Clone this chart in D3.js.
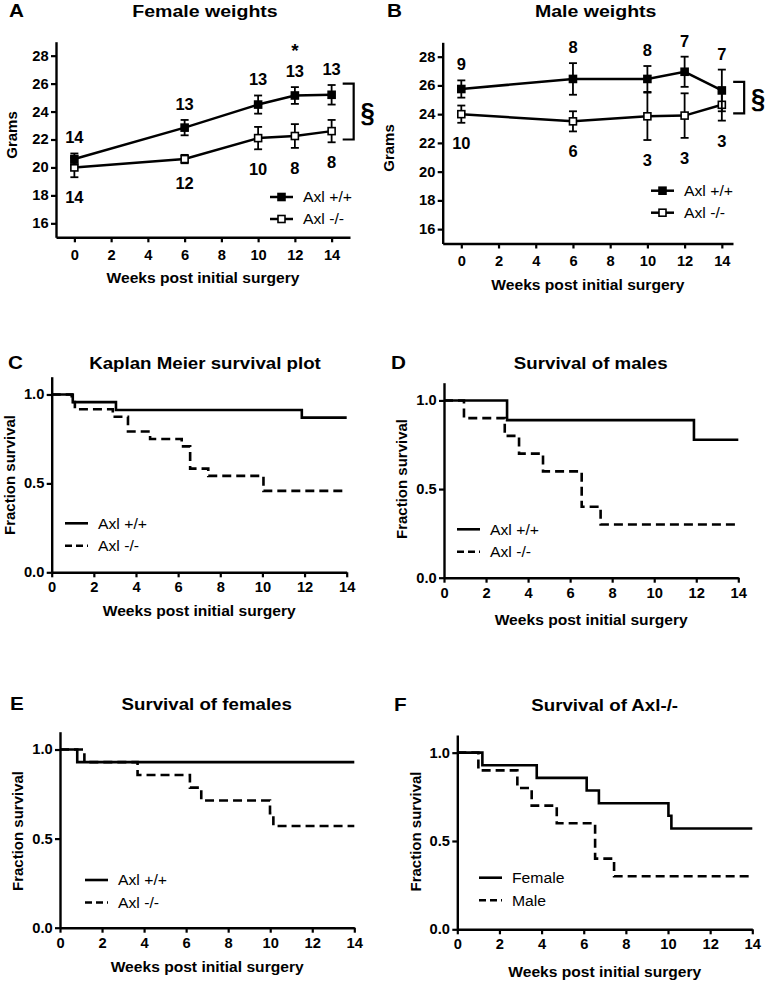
<!DOCTYPE html>
<html>
<head>
<meta charset="utf-8">
<script src="https://cdn.jsdelivr.net/npm/d3@7"></script>
<style>
body { margin: 0; background: #fff; }
svg { display: block; font-family: "Liberation Sans", Arial, sans-serif; }
</style>
</head>
<body>
<script>
// weights (panels A, B)
var weeks = [0, 6, 10, 12, 14];
var femWt = [20.6, 22.85, 24.5, 25.15, 25.2];
var femWtErr = [0.4, 0.55, 0.65, 0.6, 0.7];
var femKo = [20.0, 20.6, 22.1, 22.25, 22.6];
var femKoErr = [0.7, 0.3, 0.8, 0.85, 0.8];
var femWtN = ["14", "13", "13", "13", "13"];
var femKoN = ["14", "12", "10", "8", "8"];
var maleWt = [25.75, 26.45, 26.45, 26.95, 25.65];
var maleWtErr = [0.6, 1.1, 0.9, 1.05, 1.45];
var maleKo = [24.0, 23.5, 23.85, 23.9, 24.65];
var maleKoErr = [0.6, 0.7, 1.65, 1.55, 1.1];
var maleWtN = ["9", "8", "8", "7", "7"];
var maleKoN = ["10", "6", "3", "3", "3"];
var femBracket = [22, 26];
var maleBracket = [24.05, 26.25];
var gramTicks = [16, 18, 20, 22, 24, 26, 28];
var weekTicks = [0, 2, 4, 6, 8, 10, 12, 14];
var survTicks = [0, 0.5, 1.0];

// survival steps (panels C-F)
var cWtT = [0, 1.0, 3.05, 11.87, 14];
var cWtS = [1, 0.957, 0.913, 0.870, 0.870];
var cKoT = [0, 0.95, 1.1, 2.9, 3.62, 4.67, 6.17, 6.57, 7.43, 10.05, 14];
var cKoS = [1, 0.958, 0.917, 0.875, 0.792, 0.75, 0.708, 0.583, 0.542, 0.458, 0.458];
var dWtT = [0, 3.0, 11.89, 14];
var dWtS = [1, 0.889, 0.778, 0.778];
var dKoT = [0, 0.95, 2.89, 3.57, 4.71, 6.55, 7.45, 13.85];
var dKoS = [1, 0.9, 0.8, 0.7, 0.6, 0.4, 0.3, 0.3];
var eWtT = [0, 0.82, 14];
var eWtS = [1, 0.929, 0.929];
var eKoT = [0, 1.16, 3.69, 6.18, 6.72, 9.99, 10.15, 14];
var eKoS = [1, 0.929, 0.857, 0.786, 0.714, 0.643, 0.571, 0.571];
var fFemT = [0, 1.19, 3.77, 6.14, 6.72, 10.02, 10.16, 14];
var fFemS = [1, 0.929, 0.857, 0.786, 0.714, 0.643, 0.571, 0.571];
var fMaleT = [0, 1.0, 2.85, 3.53, 4.72, 6.54, 7.44, 14];
var fMaleS = [1, 0.9, 0.8, 0.7, 0.6, 0.4, 0.3, 0.3];

var W = 768, H = 983;
var svg = d3.select("body").append("svg").attr("width", W).attr("height", H);

function txt(x, y, s, o) {
	o = o || {};
	var t = "translate(" + x + "," + y + ")";
	if (o.rot) t += " rotate(" + o.rot + ")";
	t += " scale(" + (o.sx || 1) + ",1)";
	return svg.append("text")
		.attr("transform", t)
		.attr("text-anchor", o.anchor || "middle")
		.attr("font-size", o.size || 13)
		.attr("font-weight", o.normal ? "normal" : "bold")
		.attr("fill", "#000")
		.text(s);
}

function axes(x, y, xt, yt, yfmt, xpad) {
	var xa = svg.append("g")
		.attr("transform", "translate(0," + y.range()[0] + ")")
		.call(d3.axisBottom(x).tickValues(xt).tickSize(5).tickSizeOuter(0).tickPadding(xpad));
	var ya = svg.append("g")
		.attr("transform", "translate(" + x.range()[0] + ",0)")
		.call(d3.axisLeft(y).tickValues(yt).tickFormat(yfmt).tickSize(5).tickSizeOuter(0).tickPadding(2));
	[xa, ya].forEach(function(a) {
		a.select(".domain").attr("stroke-width", 2.4);
		a.selectAll(".tick line").attr("stroke-width", 2.2);
		a.selectAll(".tick text")
			.attr("font-size", 14)
			.attr("font-weight", "bold")
			.attr("font-family", "Liberation Sans, Arial, sans-serif")
			.attr("fill", "#000")
			.attr("transform", "scale(1.05,1)");
	});
}

function marker(x, y, filled) {
	svg.append("rect")
		.attr("x", x - 3.5).attr("y", y - 3.5)
		.attr("width", 7).attr("height", 7)
		.attr("fill", filled ? "#000" : "#fff")
		.attr("stroke", "#000").attr("stroke-width", 1.6);
}

function weightSeries(x, y, mean, err, filled) {
	var line = d3.line().x(function(d, i) { return x(weeks[i]); }).y(function(d) { return y(d); });
	svg.append("path").datum(mean).attr("d", line)
		.attr("fill", "none").attr("stroke", "#000").attr("stroke-width", 2.5);
	mean.forEach(function(m, i) {
		var cx = x(weeks[i]);
		var g = svg.append("g").attr("stroke", "#000").attr("stroke-width", 1.8);
		g.append("line").attr("x1", cx).attr("x2", cx).attr("y1", y(m - err[i])).attr("y2", y(m + err[i]));
		g.append("line").attr("x1", cx - 4).attr("x2", cx + 4).attr("y1", y(m + err[i])).attr("y2", y(m + err[i]));
		g.append("line").attr("x1", cx - 4).attr("x2", cx + 4).attr("y1", y(m - err[i])).attr("y2", y(m - err[i]));
	});
	mean.forEach(function(m, i) { marker(x(weeks[i]), y(m), filled); });
}

function weightPanel(p) {
	var x = d3.scaleLinear().domain([-1, p.xmax]).range(p.xr);
	var y = d3.scaleLinear().domain([15, 29]).range(p.yr);
	axes(x, y, weekTicks, gramTicks, d3.format("d"), 8);
	weightSeries(x, y, p.ko, p.koErr, false);
	weightSeries(x, y, p.wt, p.wtErr, true);
	p.wtN.forEach(function(n, i) {
		txt(x(weeks[i]), y(p.wt[i] + p.wtErr[i]) - 10, n, {size: 16, sx: 1.03});
	});
	p.koN.forEach(function(n, i) {
		txt(x(weeks[i]), y(p.ko[i] - p.koErr[i]) + 26, n, {size: 16, sx: 1.03});
	});
	// bracket + section sign
	var bx = x(15.2), bt = y(p.bracket[1]), bb = y(p.bracket[0]);
	svg.append("path")
		.attr("d", "M" + (bx - 11) + "," + bt + "H" + bx + "V" + bb + "H" + (bx - 11))
		.attr("fill", "none").attr("stroke", "#000").attr("stroke-width", 2.2);
	txt(bx + 14, (bt + bb) / 2 + 10, "\u00a7", {size: 27, sx: 0.95});
	// legend
	[[p.leg[1], true, "Axl +/+"], [p.leg[1] + 22, false, "Axl -/-"]].forEach(function(l) {
		svg.append("line").attr("x1", p.leg[0]).attr("x2", p.leg[0] + 23)
			.attr("y1", l[0]).attr("y2", l[0]).attr("stroke", "#000").attr("stroke-width", 2.5);
		marker(p.leg[0] + 11.5, l[0], l[1]);
		txt(p.leg[0] + 33, l[0] + 5.3, l[2], {size: 15, normal: true, anchor: "start", sx: 1.05});
	});
	txt(p.letter[0], p.letter[1], p.letter[2], {size: 18, anchor: "start", sx: 1.15});
	txt(p.title[0], p.title[1], p.title[2], {size: 17, sx: 1.15});
	txt((p.xr[0] + p.xr[1]) / 2, p.yr[0] + 46, "Weeks post initial surgery", {size: 15, sx: 1.04});
	txt(p.ylab[0], p.ylab[1], "Grams", {size: 15, rot: -90});
	return {x: x, y: y};
}

var pa = weightPanel({
	xr: [56, 350], xmax: 15, yr: [237.3, 41.7],
	wt: femWt, wtErr: femWtErr, ko: femKo, koErr: femKoErr, wtN: femWtN, koN: femKoN,
	bracket: femBracket, leg: [270, 197],
	letter: [9, 17, "A"], title: [205, 17, "Female weights"], ylab: [16.5, 135]
});
txt(pa.x(12), pa.y(25.15 + 0.6) - 30, "*", {size: 19});

weightPanel({
	xr: [442.7, 733], xmax: 14.6, yr: [243.5, 42.3],
	wt: maleWt, wtErr: maleWtErr, ko: maleKo, koErr: maleKoErr, wtN: maleWtN, koN: maleKoN,
	bracket: maleBracket, leg: [651, 190.7],
	letter: [387, 17, "B"], title: [595.7, 17, "Male weights"], ylab: [394, 148]
});

function survPanel(p) {
	var x = d3.scaleLinear().domain([0, 14]).range(p.xr);
	var y = d3.scaleLinear().domain([0, 1.1]).range(p.yr);
	axes(x, y, weekTicks, survTicks, d3.format(".1f"), 5);
	var step = d3.line().curve(d3.curveStepAfter)
		.x(function(d) { return x(d[0]); }).y(function(d) { return y(d[1]); });
	p.series.slice().reverse().forEach(function(s) {
		svg.append("path").datum(d3.zip(s.t, s.s)).attr("d", step)
			.attr("fill", "none").attr("stroke", "#000").attr("stroke-width", 2.6)
			.attr("stroke-dasharray", s.dash ? "9,5" : null);
	});
	p.series.forEach(function(s, i) {
		var ly = p.leg[1] + i * 22.5;
		svg.append("line").attr("x1", p.leg[0]).attr("x2", p.leg[0] + 23)
			.attr("y1", ly).attr("y2", ly).attr("stroke", "#000").attr("stroke-width", 2.6)
			.attr("stroke-dasharray", s.dash ? "7,4" : null);
		txt(p.leg[0] + 33, ly + 5.3, s.name, {size: 15, normal: true, anchor: "start", sx: 1.05});
	});
	txt(p.letter[0], p.letter[1], p.letter[2], {size: 18, anchor: "start", sx: 1.15});
	txt(p.title[0], p.title[1], p.title[2], {size: 17, sx: 1.1});
	txt((p.xr[0] + p.xr[1]) / 2, p.xt, "Weeks post initial surgery", {size: 15, sx: 1.04});
	txt(p.ylab[0], p.ylab[1], "Fraction survival", {size: 15, rot: -90});
}

survPanel({
	xr: [51.7, 346.7], yr: [572.3, 376.7], xt: 616,
	series: [{t: cWtT, s: cWtS, name: "Axl +/+"}, {t: cKoT, s: cKoS, name: "Axl -/-", dash: true}],
	leg: [65, 523.3], letter: [8, 369, "C"], title: [205, 369, "Kaplan Meier survival plot"], ylab: [15, 475]
});
survPanel({
	xr: [444, 738.3], yr: [577.7, 382.7], xt: 625.3,
	series: [{t: dWtT, s: dWtS, name: "Axl +/+"}, {t: dKoT, s: dKoS, name: "Axl -/-", dash: true}],
	leg: [457, 529.3], letter: [391, 369, "D"], title: [590.7, 369, "Survival of males"], ylab: [407, 479]
});
survPanel({
	xr: [60, 354.3], yr: [927.7, 731.7], xt: 972,
	series: [{t: eWtT, s: eWtS, name: "Axl +/+"}, {t: eKoT, s: eKoS, name: "Axl -/-", dash: true}],
	leg: [85, 880], letter: [10, 710, "E"], title: [206.7, 710, "Survival of females"], ylab: [23, 831]
});
survPanel({
	xr: [457.3, 752.3], yr: [929.3, 735], xt: 977,
	series: [{t: fFemT, s: fFemS, name: "Female"}, {t: fMaleT, s: fMaleS, name: "Male", dash: true}],
	leg: [479, 877.7], letter: [394, 711, "F"], title: [604.7, 711, "Survival of Axl-/-"], ylab: [420.5, 831.5]
});
</script>
</body>
</html>
